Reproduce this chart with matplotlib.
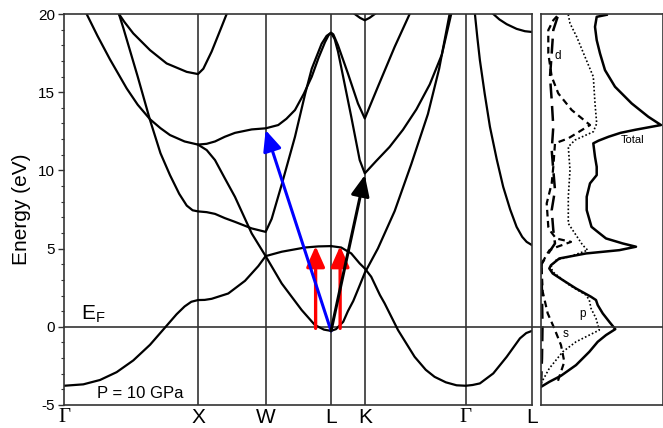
import matplotlib

matplotlib.use("Agg")
import matplotlib.pyplot as plt
from matplotlib.ticker import MultipleLocator

plt.rcParams["font.family"] = ["Liberation Sans", "DejaVu Sans"]
plt.rcParams["axes.unicode_minus"] = False

# high-symmetry points along the path (Gamma-X = 1)
SYM_K = [0.0, 1.0, 1.505, 1.993, 2.245, 2.998, 3.493]
SYM_LABELS = ["Γ", "X", "W", "L", "K", "Γ", "L"]

low_k = [0.0, 0.144, 0.269, 0.393, 0.517, 0.642, 0.759, 0.84, 0.9, 0.95, 1.0,
         1.05, 1.102, 1.226, 1.351, 1.45, 1.505, 1.625, 1.799, 1.898, 1.993]
low_e = [-3.77, -3.68, -3.4, -2.9, -2.15, -1.15, 0.0, 0.8, 1.3, 1.6, 1.71,
         1.72, 1.79, 2.13, 2.94, 3.88, 4.52, 4.8, 5.07, 5.14, 5.16]

band_a_k = [1.993, 2.069, 2.144, 2.207, 2.245, 2.293, 2.358, 2.393, 2.493, 2.617, 2.7,
            2.766, 2.85, 2.93, 2.998, 3.05, 3.104, 3.204, 3.304, 3.403, 3.45, 3.493]
band_a_e = [5.16, 5.07, 4.69, 4.05, 3.73, 3.2, 2.03, 1.5, -0.21, -1.92, -2.75,
            -3.2, -3.55, -3.74, -3.77, -3.72, -3.62, -2.98, -1.92, -0.74, -0.4, -0.26]

band_b_k = [1.0, 1.065, 1.127, 1.2, 1.276, 1.401, 1.505, 1.625, 1.774, 1.873, 1.94, 1.993,
            2.03, 2.084, 2.119, 2.159, 2.2, 2.245, 2.343, 2.468, 2.592, 2.716, 2.8, 2.878]
band_b_e = [11.65, 11.3, 10.66, 9.5, 8.31, 5.97, 4.52, 2.77, 1.07, 0.11, -0.18, -0.26,
            -0.15, 0.32, 1.0, 1.65, 2.5, 3.45, 5.01, 7.4, 10.4, 13.6, 16.5, 20.0]

band_c_k = [0.169, 0.25, 0.343, 0.468, 0.55, 0.642, 0.72, 0.791, 0.9, 1.0, 1.065, 1.127,
            1.2, 1.276, 1.401, 1.505, 1.599, 1.66, 1.724, 1.79, 1.849, 1.9, 1.948, 1.975,
            1.993, 2.01, 2.045, 2.119, 2.194, 2.245, 2.343, 2.468, 2.58]
band_c_e = [20.0, 18.6, 17.1, 15.24, 14.2, 13.27, 12.7, 12.26, 11.85, 11.65, 11.7, 11.85,
            12.15, 12.4, 12.62, 12.69, 12.9, 13.3, 13.86, 14.9, 15.99, 17.2, 18.2, 18.65,
            18.8, 18.7, 18.0, 16.2, 14.28, 13.32, 15.35, 17.9, 20.0]

band_d_k = [0.41, 0.443, 0.55, 0.642, 0.72, 0.791, 0.86, 0.916, 0.96, 1.0, 1.065, 1.127,
            1.2, 1.276, 1.401, 1.505, 1.55, 1.625, 1.724, 1.8, 1.849, 1.923, 1.96, 1.993,
            2.02, 2.045, 2.069, 2.144, 2.207, 2.245, 2.33, 2.43, 2.53, 2.63, 2.73, 2.82, 2.89]
band_d_e = [20.0, 19.1, 16.0, 13.22, 11.1, 9.7, 8.5, 7.75, 7.45, 7.38, 7.33, 7.22,
            6.95, 6.71, 6.29, 6.07, 6.9, 9.1, 12.15, 14.9, 16.5, 18.1, 18.6, 18.8,
            18.4, 17.6, 16.6, 13.43, 10.66, 9.81, 10.6, 11.5, 12.6, 13.9, 15.5, 17.4, 20.0]

band_e_k = [0.41, 0.45, 0.517, 0.642, 0.766, 0.916, 1.0, 1.04, 1.102, 1.177, 1.214]
band_e_e = [20.0, 19.5, 18.76, 17.69, 16.84, 16.3, 16.16, 16.5, 17.6, 19.2, 20.0]

band_kv_k = [2.17, 2.21, 2.245, 2.28, 2.32]
band_kv_e = [20.0, 19.75, 19.6, 19.75, 20.0]

band_gl_k = [3.067, 3.085, 3.104, 3.14, 3.179, 3.23, 3.278, 3.33, 3.378, 3.42, 3.453, 3.493]
band_gl_e = [20.0, 18.5, 17.05, 14.9, 12.79, 10.7, 8.95, 7.5, 6.39, 5.75, 5.43, 5.22]

band_top_k = [3.204, 3.25, 3.304, 3.378, 3.44, 3.493]
band_top_e = [20.0, 19.65, 19.35, 19.05, 18.9, 18.85]

BANDS = [(low_k, low_e), (band_a_k, band_a_e), (band_b_k, band_b_e), (band_c_k, band_c_e),
         (band_d_k, band_d_e), (band_e_k, band_e_e), (band_kv_k, band_kv_e),
         (band_gl_k, band_gl_e), (band_top_k, band_top_e)]

# transitions
red_k = [1.878, 2.061]
red_e0 = -0.1
red_e1 = 5.16
blue_arrow = (1.993, -0.26, 1.505, 12.58)
black_arrow = (1.993, -0.26, 2.245, 9.7)

# density of states (arbitrary units)
total_e = [-3.84, -3.52, -3.13, -2.45, -1.6, -0.96, -0.53, -0.15, 0.32, 0.86, 1.39, 1.71,
           1.92, 2.45, 2.99, 3.41, 3.73, 3.94, 4.37, 4.69, 4.9, 5.12, 5.33, 5.65, 6.07,
           6.39, 7.46, 8.31, 9.17, 9.7, 10.23, 10.87, 11.73, 11.9, 12.15, 12.4, 12.6, 12.9,
           13.43, 14.28, 15.35, 16.41, 17.48, 18.33, 19.18, 19.82, 19.95]
total_dos = [0.5, 8.8, 20.5, 35.5, 48.8, 57.2, 65.5, 74.8, 68.8, 62.2, 57.2, 55.5,
             50.5, 35.5, 22.2, 12.2, 8.8, 10.5, 18.8, 45.5, 78.8, 95.5, 82.2, 65.5, 57.2,
             51.0, 46.2, 46.2, 49.5, 56.2, 56.2, 54.5, 52.8, 58.0, 68.0, 80.0, 95.0, 120.5,
             107.8, 91.2, 74.5, 64.5, 59.5, 56.2, 54.5, 56.2, 66.2]

p_e = [-3.62, -2.66, -1.6, -0.96, -0.53, -0.21, 0.54, 1.18, 1.71, 2.03, 2.67, 3.52, 3.84,
       4.26, 4.48, 4.9, 5.22, 6.18, 6.61, 8.31, 10.02, 11.51, 11.94, 12.47, 13.0, 14.28,
       15.99, 17.26, 18.54, 19.4, 19.95]
p_dos = [0.5, 8.8, 22.2, 35.5, 48.8, 58.8, 55.5, 50.5, 48.8, 45.5, 28.8, 12.2, 10.5,
         15.5, 28.8, 47.2, 42.2, 32.2, 27.8, 27.8, 29.5, 27.8, 34.5, 52.8, 56.2, 54.5,
         52.8, 44.5, 36.2, 29.5, 27.8]

s_e = [-3.45, -2.24, -1.17, -0.1, 0.86, 2.24, 3.2, 3.73, 4.05, 4.6, 4.9, 5.12, 5.43, 5.65,
       6.07, 6.39, 7.89, 9.17, 10.23, 11.73, 12.05, 12.9, 13.86, 14.92, 15.99, 17.48,
       18.97, 19.6, 19.95]
s_dos = [17.5, 23.8, 20.5, 13.8, 7.2, 2.2, 1.5, 1.0, 1.5, 6.0, 9.0, 17.0, 30.5, 15.5,
         10.5, 7.8, 6.2, 11.2, 12.8, 14.5, 27.8, 49.5, 31.2, 17.8, 11.2, 7.8,
         7.8, 12.8, 17.8]

d_e = [-3.8, -2.0, 0.0, 2.0, 3.7, 4.05, 4.69, 5.33, 6.18, 7.46, 8.74, 10.02, 11.3, 12.79,
       14.5, 15.99, 17.48, 18.97, 19.95]
d_dos = [0.5, 1.5, 2.0, 1.5, 1.0, 1.2, 7.8, 14.5, 12.8, 11.2, 14.5, 12.8, 11.2, 12.8,
         11.2, 9.5, 11.2, 12.8, 17.8]

FRAME = "#333333"

fig = plt.figure(figsize=(6.63, 4.28), dpi=100)
ax = fig.add_axes([64 / 663, 23 / 428, 468 / 663, 391 / 428])
dos_ax = fig.add_axes([540.5 / 663, 23 / 428, 122.5 / 663, 391 / 428])

for k, e in BANDS:
    ax.plot(k, e, color="black", lw=1.6, solid_joinstyle="round")

for k in SYM_K[1:-1]:
    ax.axvline(k, color=FRAME, lw=1.2, zorder=1)
ax.axhline(0, xmin=0, xmax=1.02, color=FRAME, lw=1.2, zorder=1, clip_on=False)

head = "-|>,head_length=0.45,head_width=0.2"
for k in red_k:
    ax.annotate("", xy=(k, red_e1), xytext=(k, red_e0),
                arrowprops=dict(arrowstyle=head, color="#ff0000", lw=2.4,
                                mutation_scale=28, shrinkA=0, shrinkB=0))
for arrow, colour in [(blue_arrow, "#0000ff"), (black_arrow, "black")]:
    k0, e0, k1, e1 = arrow
    ax.annotate("", xy=(k1, e1), xytext=(k0, e0),
                arrowprops=dict(arrowstyle=head, color=colour, lw=2.2,
                                mutation_scale=28, shrinkA=0, shrinkB=0))

ax.set_xlim(SYM_K[0], SYM_K[-1])
ax.set_ylim(-5, 20)
ax.set_xticks(SYM_K)
ax.set_xticklabels(SYM_LABELS, fontsize=15)
for label in ax.get_xticklabels():
    if label.get_text() == "Γ":
        label.set_fontfamily("Liberation Serif")
ax.set_yticks([-5, 0, 5, 10, 15, 20])
ax.yaxis.set_minor_locator(MultipleLocator(1))
ax.tick_params(axis="x", length=0, pad=2)
ax.tick_params(axis="y", which="major", direction="out", length=4.5, width=1,
               labelsize=11, pad=2, color=FRAME)
ax.tick_params(axis="y", which="minor", direction="out", length=2.3, width=0.8, color=FRAME)
ax.set_ylabel("Energy (eV)", fontsize=15, labelpad=5)
for spine in ax.spines.values():
    spine.set_color(FRAME)
    spine.set_linewidth(1.2)

ax.text(0.13, 0.5, r"E$_\mathregular{F}$", fontsize=15, va="baseline")
ax.text(0.245, -4.56, "P = 10 GPa", fontsize=12, va="baseline")

dos_ax.plot(total_dos, total_e, color="black", lw=1.8)
dos_ax.plot(p_dos, p_e, color="black", lw=1.2, linestyle=(0, (1, 1.3)))
dos_ax.plot(s_dos, s_e, color="black", lw=1.6, linestyle=(0, (3, 2)))
dos_ax.plot(d_dos, d_e, color="black", lw=1.8, linestyle=(0, (6, 3)))
dos_ax.axhline(0, color=FRAME, lw=1.2)
dos_ax.set_xlim(0, 122.5)
dos_ax.set_ylim(-5, 20)
dos_ax.set_xticks([])
dos_ax.set_yticks([])
for spine in dos_ax.spines.values():
    spine.set_color(FRAME)
    spine.set_linewidth(1.2)

dos_ax.text(17.5, 17.3, "d", fontsize=8.5, ha="center", va="center")
dos_ax.text(92, 11.95, "Total", fontsize=8, ha="center", va="center")
dos_ax.text(42, 0.8, "p", fontsize=8.5, ha="center", va="center")
dos_ax.text(25, -0.45, "s", fontsize=8.5, ha="center", va="center")

fig.savefig("out.png", dpi=100)
